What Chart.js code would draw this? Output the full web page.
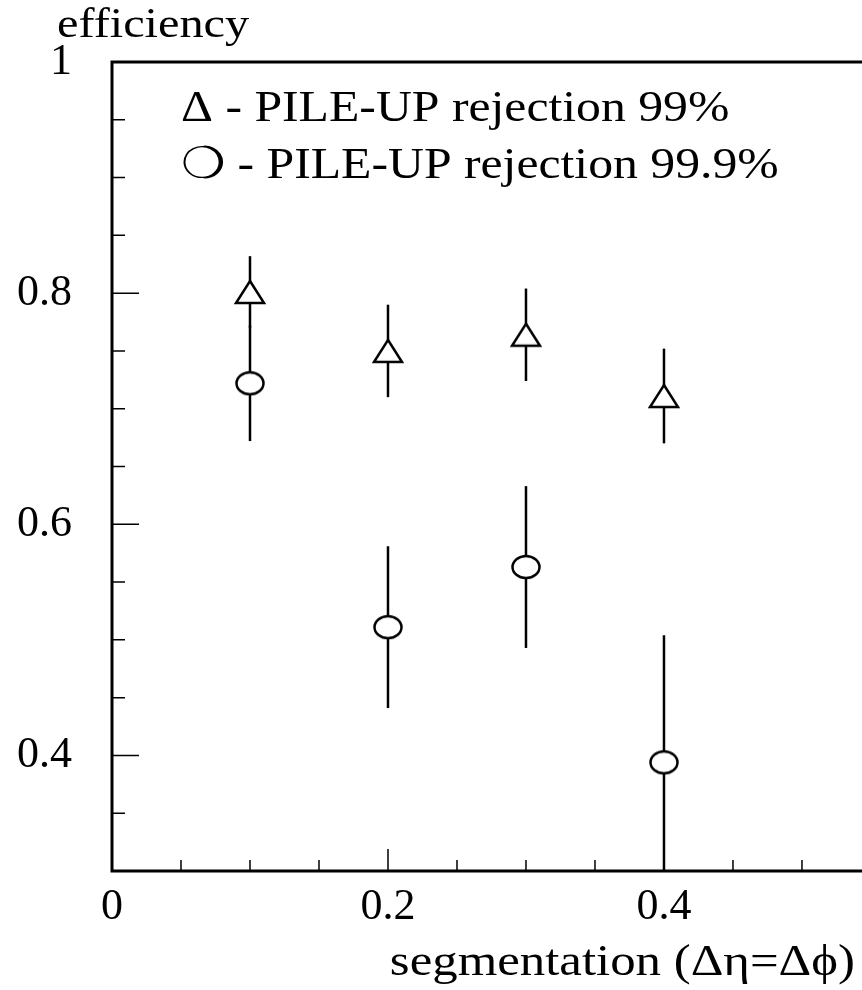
<!DOCTYPE html>
<html>
<head>
<meta charset="utf-8">
<script src="https://cdn.jsdelivr.net/npm/chart.js@4/dist/chart.umd.min.js"></script>
<style>
  html, body { margin: 0; padding: 0; background: #fff; }
</style>
</head>
<body>
<canvas id="effChart" width="862" height="990"></canvas>
<script>
// segmentation (Δη=Δϕ) points
const segmentation = [0.1, 0.2, 0.3, 0.4];
// PILE-UP rejection 99% (triangles)
const eff99 = [0.801, 0.750, 0.764, 0.711];
const err99 = [0.031, 0.040, 0.040, 0.041];
// PILE-UP rejection 99.9% (circles)
const eff999 = [0.722, 0.511, 0.563, 0.394];
const err999 = [0.050, 0.070, 0.070, 0.110];

const xTickLabels = [0, 0.2, 0.4];
const xMinorTicks = [0.05, 0.1, 0.15, 0.25, 0.3, 0.35, 0.45, 0.5];
const yTickLabels = [0.4, 0.6, 0.8, 1];
const yMinorTicks = [0.35, 0.45, 0.5, 0.55, 0.65, 0.7, 0.75, 0.85, 0.9, 0.95];

const FONT = "'Liberation Serif', 'Times New Roman', serif";

// marker images: open triangle and open ellipse
function makeMarker(kind) {
  const c = document.createElement("canvas");
  c.width = 34;
  c.height = 28;
  const g = c.getContext("2d");
  g.lineWidth = 2.5;
  g.strokeStyle = "#000";
  g.fillStyle = "#fff";
  g.beginPath();
  if (kind === "triangle") {
    g.moveTo(17, 3);
    g.lineTo(31, 25);
    g.lineTo(3, 25);
    g.closePath();
  } else {
    g.ellipse(17, 14, 13.5, 11, 0, 0, Math.PI * 2);
  }
  g.fill();
  g.stroke();
  return c;
}

const errorBars = {
  id: "errorBars",
  beforeDatasetsDraw(chart) {
    const { ctx, chartArea, scales } = chart;
    ctx.save();
    ctx.beginPath();
    ctx.rect(chartArea.left, chartArea.top, chartArea.right - chartArea.left, chartArea.bottom - chartArea.top);
    ctx.clip();
    ctx.strokeStyle = "#000";
    ctx.lineWidth = 2.5;
    const sets = [[eff99, err99], [eff999, err999]];
    sets.forEach(([vals, errs]) => {
      segmentation.forEach((s, i) => {
        const x = scales.x.getPixelForValue(s);
        ctx.beginPath();
        ctx.moveTo(x, scales.y.getPixelForValue(vals[i] + errs[i]));
        ctx.lineTo(x, scales.y.getPixelForValue(vals[i] - errs[i]));
        ctx.stroke();
      });
    });
    ctx.restore();
  },
};

const frame = {
  id: "frame",
  afterDatasetsDraw(chart) {
    const { ctx, chartArea, scales } = chart;
    const { left, top, right, bottom } = chartArea;
    ctx.save();
    ctx.strokeStyle = "#000";
    // ticks inside the frame
    ctx.lineWidth = 1.5;
    ctx.beginPath();
    yMinorTicks.forEach((v) => {
      const y = scales.y.getPixelForValue(v);
      ctx.moveTo(left, y);
      ctx.lineTo(left + 13, y);
    });
    yTickLabels.forEach((v) => {
      const y = scales.y.getPixelForValue(v);
      ctx.moveTo(left, y);
      ctx.lineTo(left + 27, y);
    });
    xMinorTicks.forEach((v) => {
      const x = scales.x.getPixelForValue(v);
      ctx.moveTo(x, bottom);
      ctx.lineTo(x, bottom - 11);
    });
    xTickLabels.forEach((v) => {
      const x = scales.x.getPixelForValue(v);
      ctx.moveTo(x, bottom);
      ctx.lineTo(x, bottom - 22);
    });
    ctx.stroke();
    // frame
    ctx.lineWidth = 3;
    ctx.beginPath();
    ctx.moveTo(right + 2, top);
    ctx.lineTo(left, top);
    ctx.lineTo(left, bottom);
    ctx.lineTo(right + 2, bottom);
    ctx.stroke();
    ctx.restore();
  },
};

function stretchedText(ctx, text, x, y, size, stretch, align) {
  ctx.save();
  ctx.translate(x, y);
  ctx.scale(stretch, 1);
  ctx.font = size + "px " + FONT;
  ctx.textAlign = align;
  ctx.textBaseline = "alphabetic";
  ctx.fillStyle = "#000";
  ctx.fillText(text, 0, 0);
  ctx.restore();
}

const labels = {
  id: "labels",
  afterDraw(chart) {
    const ctx = chart.ctx;
    stretchedText(ctx, "efficiency", 57, 37, 42, 1.15, "left");
    stretchedText(ctx, "segmentation (\u0394\u03b7=\u0394\u03d5)", 855, 975, 45, 1.13, "right");
    stretchedText(ctx, "\u0394 - PILE-UP rejection 99%", 181, 121, 44, 1.13, "left");
    stretchedText(ctx, "\u274d - PILE-UP rejection 99.9%", 181, 178, 44, 1.13, "left");
  },
};

new Chart(document.getElementById("effChart").getContext("2d"), {
  type: "scatter",
  data: {
    datasets: [
      {
        label: "PILE-UP rejection 99%",
        data: segmentation.map((s, i) => ({ x: s, y: eff99[i] })),
        pointStyle: makeMarker("triangle"),
        pointRadius: 15,
      },
      {
        label: "PILE-UP rejection 99.9%",
        data: segmentation.map((s, i) => ({ x: s, y: eff999[i] })),
        pointStyle: makeMarker("ellipse"),
        pointRadius: 14,
      },
    ],
  },
  options: {
    responsive: false,
    animation: false,
    devicePixelRatio: 1,
    layout: { autoPadding: false, padding: { top: 62, right: 0, left: 0, bottom: 0 } },
    plugins: {
      legend: { display: false },
      tooltip: { enabled: false },
    },
    scales: {
      x: {
        type: "linear",
        min: 0,
        max: 0.5435,
        afterBuildTicks: (s) => {
          s.ticks = xTickLabels.map((v) => ({ value: v }));
        },
        afterFit: (s) => {
          s.height = 119;
          s.paddingLeft = 0;
          s.paddingRight = 0;
        },
        grid: { display: false, drawTicks: false },
        border: { display: false },
        ticks: {
          color: "#000",
          font: { family: FONT, size: 44 },
          padding: 10,
          maxRotation: 0,
          autoSkip: false,
          callback: (v) => String(v),
        },
      },
      y: {
        type: "linear",
        min: 0.3,
        max: 1,
        afterBuildTicks: (s) => {
          s.ticks = yTickLabels.map((v) => ({ value: v }));
        },
        afterFit: (s) => {
          s.width = 112;
          s.paddingTop = 0;
          s.paddingBottom = 0;
        },
        grid: { display: false, drawTicks: false },
        border: { display: false },
        ticks: {
          color: "#000",
          font: { family: FONT, size: 44 },
          padding: 40,
          autoSkip: false,
          callback: (v) => String(v),
        },
      },
    },
  },
  plugins: [errorBars, frame, labels],
});
</script>
</body>
</html>
